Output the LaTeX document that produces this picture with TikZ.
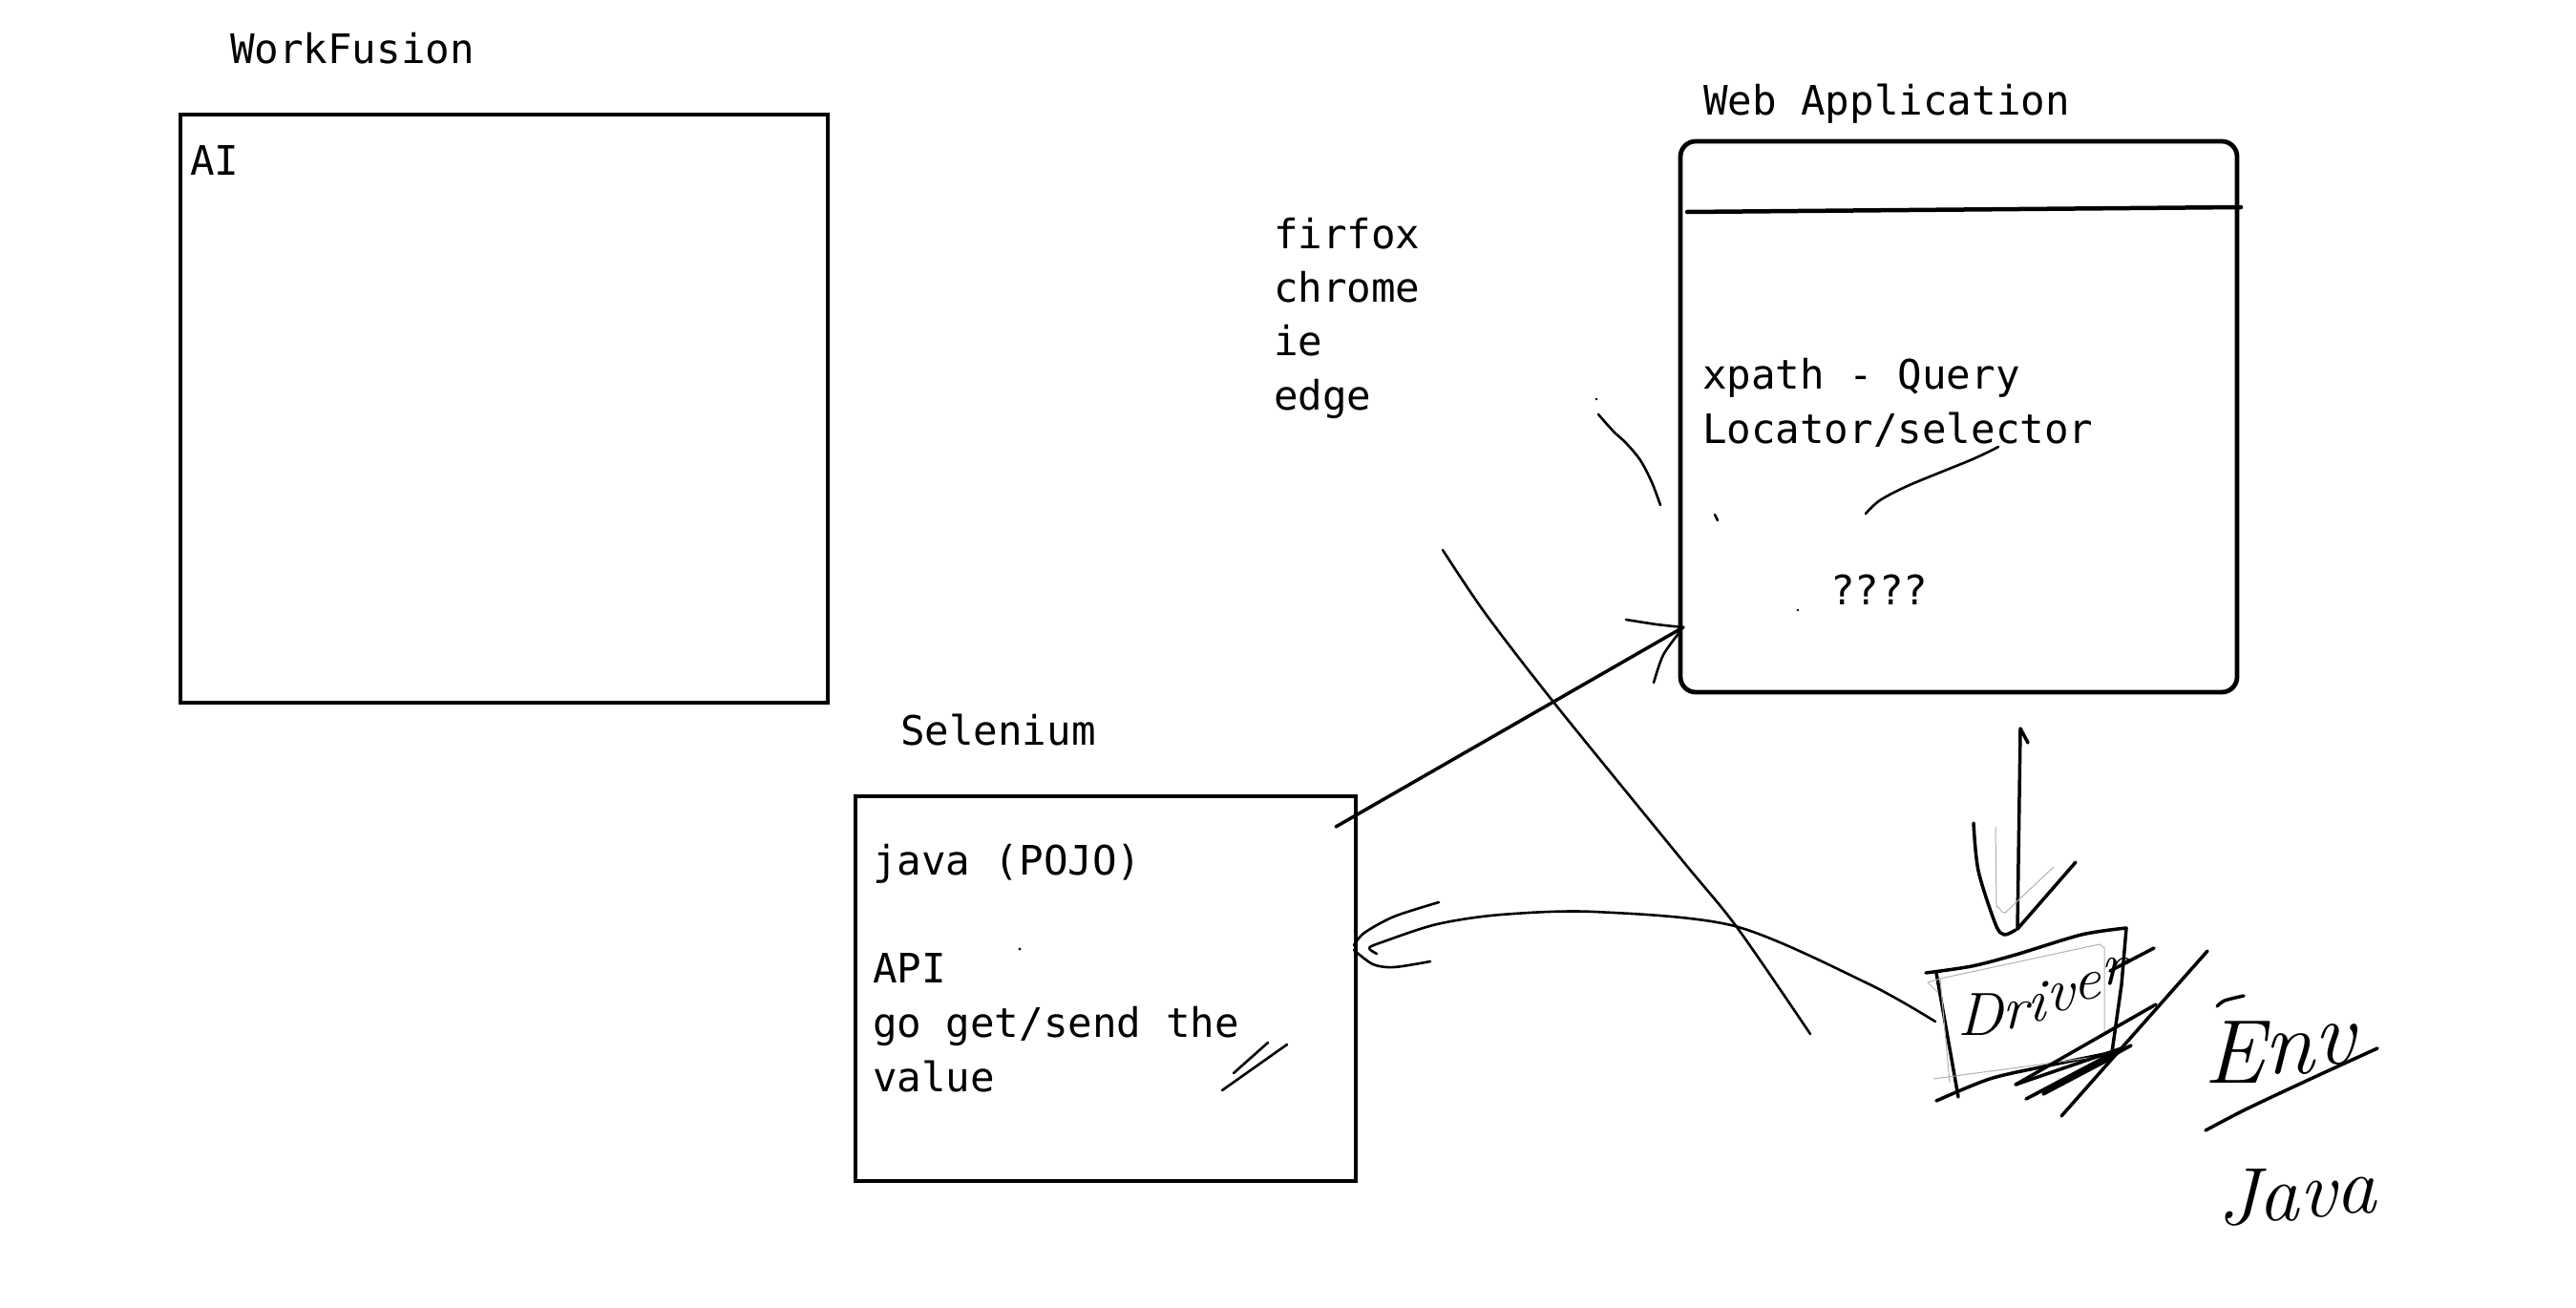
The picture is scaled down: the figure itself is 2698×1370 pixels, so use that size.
\documentclass[tikz,border=0pt]{standalone}
\usepackage{fontspec}
\newfontfamily\mono{DejaVu Sans Mono}
\begin{document}
\begin{tikzpicture}[x=1pt,y=-1pt,
  box/.style={draw, line width=4.8, inner sep=0, outer sep=0, anchor=north west},
  lbl/.style={font=\mono\fontsize{42.5}{57}\selectfont, anchor=base west, inner sep=0, outer sep=0},
  hand/.style={font=\itshape\fontsize{58}{58}\selectfont, inner sep=0},
  ink/.style={line width=3.5, line cap=round, line join=round},
  pen/.style={line width=2.6, line cap=round, line join=round},
  ghost/.style={line width=1, gray!60, line cap=round}]
\fill[white] (0,0) rectangle (2698,1370);
\useasboundingbox (0,0) rectangle (2698,1370);

% ---- WorkFusion ----
\node[lbl] (wflbl) at (241,67) {WorkFusion};
\node[box, minimum width=678, minimum height=616] (wf) at (189,120) {};
\node[lbl] (ai) at (199,183) {AI};

% ---- Browsers ----
\node[lbl] (b1) at (1334,260) {firfox};
\node[lbl] (b2) at (1334,316) {chrome};
\node[lbl] (b3) at (1334,372) {ie};
\node[lbl] (b4) at (1334,429) {edge};

% ---- Web Application ----
\node[lbl] (weblbl) at (1784,121) {Web Application};
\node[box, rounded corners=16, minimum width=583, minimum height=577] (web) at (1760,148) {};
\draw[line width=4.5, line cap=round] (1767,222) -- (2347,217);
\node[lbl] (xp) at (1783,407) {xpath - Query};
\node[lbl] (loc) at (1783,464) {Locator/selector};
\node[lbl] (qq) at (1917,633) {????};

% ---- Selenium ----
\node[lbl] (sellbl) at (943,780) {Selenium};
\node[box, minimum width=524, minimum height=403] (sel) at (896,834) {};
\node[lbl] (s1) at (914,916) {java (POJO)};
\node[lbl] (s2) at (914,1029) {API};
\node[lbl] (s3) at (914,1086) {go get/send the};
\node[lbl] (s4) at (914,1143) {value};
\draw[pen] (1292,1124) -- (1328,1092);
\draw[pen] (1280,1142) -- (1348,1094);
\fill (1068,994) circle (1.6);

% ---- Selenium -> Web arrow ----
\coordinate (selout) at (1399,866);
\coordinate (webin) at (1763,657);
\draw[ink] (selout) -- (webin);
\draw[pen] plot[smooth] coordinates {(1703,649) (1735,654) (webin)};
\draw[pen] plot[smooth] coordinates {(1732,715) (1742,686) (1760,661)};

% ---- misc strokes ----
\draw[pen] plot[smooth] coordinates {(1511,576) (1556,643) (1630,739) (1761,900) (1819,971) (1896,1083)};
\draw[pen] plot[smooth] coordinates {(1674,434) (1690,452) (1703,464) (1718,482) (1730,505) (1739,529)};
\fill (1672,418) circle (1.3);
\draw[pen] plot[smooth] coordinates {(2093,468) (2066,481) (2000,508) (1969,524) (1954,538)};
\draw[pen] (1796,539) -- (1799,545);
\fill (1883,639) circle (1.3);

% ---- Web -> Driver arrow ----
\coordinate (webout) at (2116,763);
\coordinate (drvin) at (2113,973);
\draw[ink] (2124,778) -- (webout) -- (drvin);
\draw[ink] plot[smooth] coordinates {(2067,862) (2072,912) (2090,968) (2099,979) (2111,974)};
\draw[ink] (2174,903) -- (drvin);
\draw[ghost] (2090,866) -- (2091,950) to[out=80,in=200] (2100,956) -- (2151,908);

% ---- Driver ----
\draw[ink] plot[smooth] coordinates {(2017,1019) (2065,1012) (2111,1000) (2180,979) (2227,972)};
\draw[ink] (2227,972) -- (2222,1031) -- (2212,1102);
\draw[ink] (2028,1019) -- (2051,1149);
\draw[ink] plot[smooth] coordinates {(2028,1153) (2084,1130) (2141,1117) (2214,1102)};
\draw[ghost] (2019,1029) -- (2032,1025) -- (2199,989) -- (2204,993) -- (2204,1084);
\draw[ghost] (2025,1130) -- (2210,1105);
\draw[ghost] (2032,1025) -- (2042,1134);
\draw[ghost] (2019,1029) -- (2030,1040);
\node[hand, font=\itshape\fontsize{64}{64}\selectfont, anchor=base west] (drv) at (2050,1084)
  {D\raisebox{7pt}{r}\raisebox{15pt}{i}\raisebox{26pt}{v}\raisebox{38pt}{e}\raisebox{53pt}{r}};
\draw[ink] (2210,1017) -- (2256,993);
\draw[ink] (2159,1169) -- (2312,996);
\draw[ink] (2111,1136) -- (2258,1052);
\draw[ink] (2111,1136) -- (2222,1098) -- (2122,1151) -- (2232,1095) -- (2140,1146) -- (2212,1108);

% ---- Driver -> Selenium curve ----
\coordinate (drvout) at (2027,1070);
\coordinate (selin) at (1418,995);
\draw[pen] plot[smooth] coordinates {(drvout) (1956,1030) (1817,970) (1670,955) (1572,958) (1505,968) (1447,987) (1434,993) (1442,999)};
\draw[pen] plot[smooth] coordinates {(1507,945) (1460,960) (1429,977) (1418,990)};
\draw[pen] plot[smooth] coordinates {(selin) (1438,1010) (1460,1013) (1498,1007)};

% ---- Env / Java ----
\node[hand, font=\itshape\fontsize{95}{95}\selectfont, anchor=base west] (env) at (2308,1134)
  {E\raisebox{10pt}{n}\raisebox{20pt}{v}};
\draw[ink] plot[smooth] coordinates {(2322,1054) (2330,1048) (2350,1043)};
\draw[ink] plot[smooth] coordinates {(2310,1184) (2352,1162) (2420,1130) (2490,1098)};
\node[hand, font=\itshape\fontsize{85}{85}\selectfont, anchor=base west] (java) at (2322,1282)
  {J\raisebox{4pt}{a}\raisebox{8pt}{v}\raisebox{12pt}{a}};
\end{tikzpicture}
\end{document}
